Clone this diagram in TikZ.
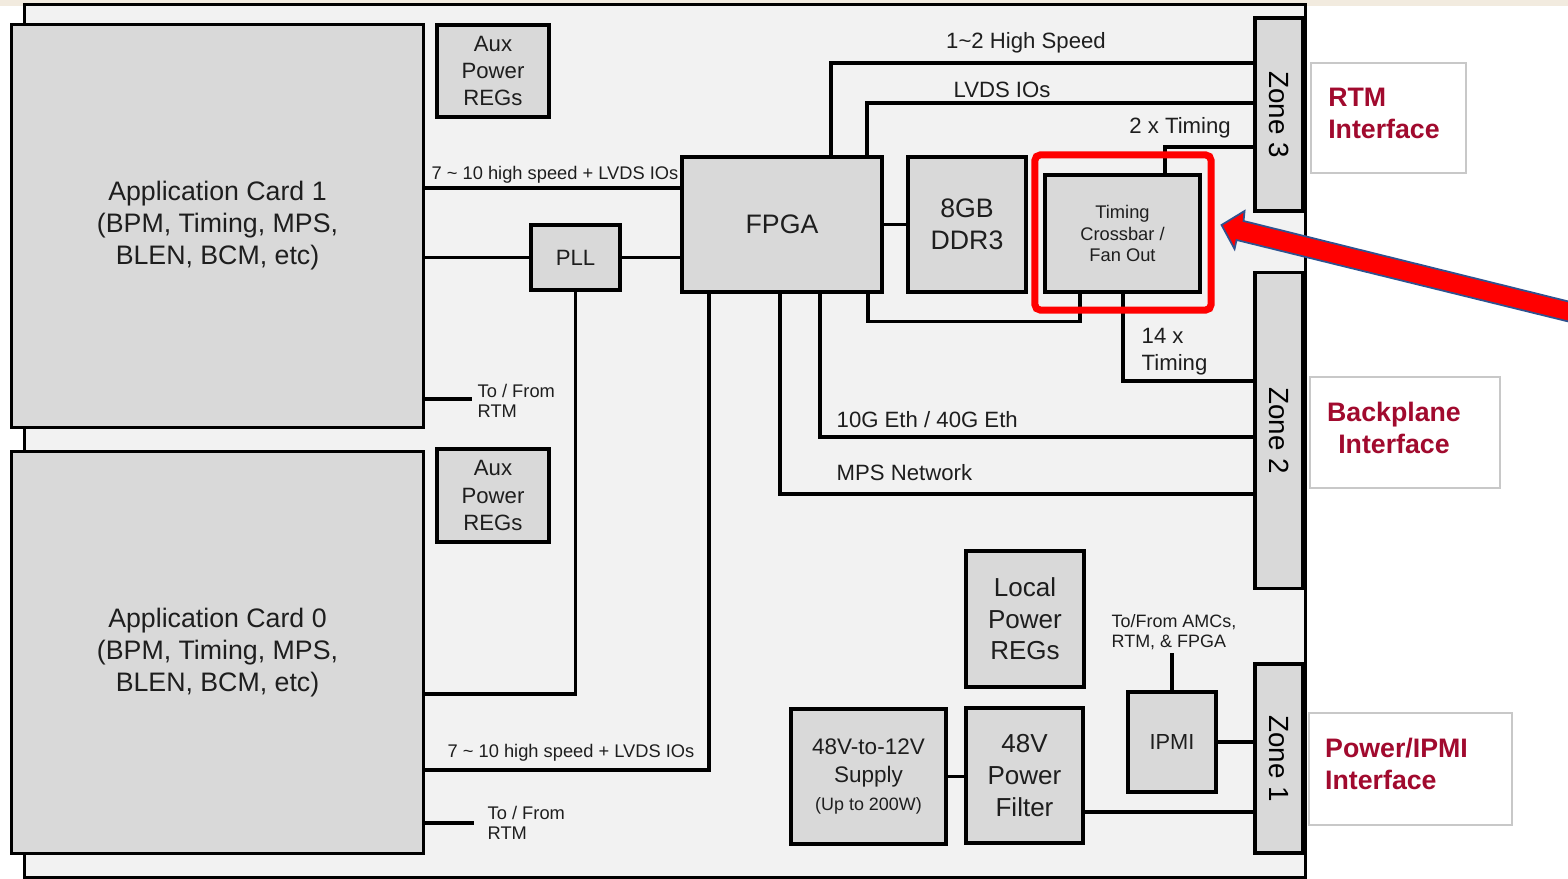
\documentclass[tikz,border=0pt]{standalone}
\usepackage{fontspec}
\setmainfont{Liberation Sans}
\usepackage{graphicx}
\usetikzlibrary{positioning, calc}
\definecolor{boardgray}{HTML}{F2F2F2}
\definecolor{boxgray}{HTML}{D9D9D9}
\definecolor{inkgray}{HTML}{1E1E1E}
\definecolor{ifacered}{HTML}{A10A2E}
\definecolor{ifaceline}{HTML}{C8C8C8}
\definecolor{arrowblue}{HTML}{2F528F}
\definecolor{topbeige}{HTML}{F2EBDF}
\newcommand{\fs}[2]{\fontsize{#1}{#2}\selectfont}

\begin{document}
\begin{tikzpicture}[
    x=0.01cm, y=-0.01cm,
    blk/.style 2 args={rectangle, draw=black, fill=boxgray, line width=0.9pt, minimum width=#1cm, minimum height=#2cm, inner sep=0pt, align=center, text=inkgray},
    wire/.style={line width=0.9pt, draw=black},
    lbl/.style={inner sep=0pt, text=inkgray, align=left},
    ifbox/.style 2 args={rectangle, draw=ifaceline, fill=white, line width=0.4pt, minimum width=#1cm, minimum height=#2cm, inner sep=0pt},
    iftext/.style={text=ifacered, font=\fs{7.6}{9.1}\bfseries, inner sep=0pt},
    hilite/.style={rectangle, draw=red, line width=2pt, rounded corners=1.5pt, minimum width=1.76cm, minimum height=1.55cm, inner sep=0pt},
  ]
  \useasboundingbox (0,0) rectangle (1568,879);
  \fill[topbeige] (0,0) rectangle (1568,6);

  % Board
  \node[rectangle, draw=black, fill=boardgray, line width=0.9pt, minimum width=12.8cm, minimum height=8.72cm, inner sep=0pt] (board) at (665,441) {};

  % Blocks
  \node[blk={4.11}{4.02}, font=\fs{7.6}{9.1}] (app1) at (217.5,226) {Application Card 1\\(BPM, Timing, MPS,\\BLEN, BCM, etc)};
  \node[blk={4.11}{4.01}, font=\fs{7.6}{9.1}] (app0) at (217.5,652.5) {Application Card 0\\(BPM, Timing, MPS,\\BLEN, BCM, etc)};
  \node[blk={1.12}{0.92}, font=\fs{6.3}{7.7}] (aux1) at (493,71) {Aux\\Power\\REGs};
  \node[blk={1.12}{0.93}, font=\fs{6.3}{7.7}] (aux0) at (493,495.5) {Aux\\Power\\REGs};
  \node[blk={0.89}{0.65}, font=\fs{6.3}{7.7}] (pll) at (575.5,257.5) {PLL};
  \node[blk={2.00}{1.35}, font=\fs{7.6}{9.1}] (fpga) at (782,224.5) {FPGA};
  \node[blk={1.18}{1.35}, font=\fs{7.6}{9.1}] (ddr) at (967,224.5) {8GB\\DDR3};
  \node[blk={1.55}{1.17}, font=\fs{5.2}{6.1}] (timing) at (1122.5,233.5) {Timing\\Crossbar /\\Fan Out};
  \node[blk={1.18}{1.36}, font=\fs{7.4}{9.0}] (lpreg) at (1025,619) {Local\\Power\\REGs};
  \node[blk={1.55}{1.35}, font=\fs{6.4}{7.9}] (supply) at (868.5,776.5) {48V-to-12V\\Supply\\{\fs{5.1}{6.8}(Up to 200W)}};
  \node[blk={1.17}{1.35}, font=\fs{7.4}{9.0}] (filter) at (1024.5,775.5) {48V\\Power\\Filter};
  \node[blk={0.88}{1.00}, font=\fs{6.2}{7.5}] (ipmi) at (1172,742) {IPMI};

  % Zones
  \node[blk={0.48}{1.93}, font=\fs{7.9}{9}, text=black] (zone3) at (1279,114.5) {\rotatebox{-90}{Zone 3}};
  \node[blk={0.48}{3.15}, font=\fs{7.9}{9}, text=black] (zone2) at (1279,430.5) {\rotatebox{-90}{Zone 2}};
  \node[blk={0.48}{1.89}, font=\fs{7.9}{9}, text=black] (zone1) at (1279,758.5) {\rotatebox{-90}{Zone 1}};

  % Interface boxes
  \node[ifbox={1.55}{1.10}, label={[iftext, align=left, xshift=-0.045cm, yshift=0.05cm]center:RTM\\Interface}] (rtmif) at (1388.5,118) {};
  \node[ifbox={1.90}{1.11}, label={[iftext, align=center, xshift=-0.11cm, yshift=0.05cm]center:Backplane\\Interface}] (bpif) at (1405,432.5) {};
  \node[ifbox={2.03}{1.12}, label={[iftext, align=left, xshift=-0.14cm, yshift=0.05cm]center:Power/IPMI\\Interface}] (pwrif) at (1410.5,769) {};

  % Connectors, left side
  \draw[wire] (app1.east |- 0,188) -- (fpga.west |- 0,188);
  \node[lbl, font=\fs{5.2}{6}] (hslbl1) at (555,175) {7 \textasciitilde{} 10 high speed + LVDS IOs};
  \draw[wire] (app1.east |- pll.west) -- (pll.west);
  \draw[wire] (pll.east) -- (fpga.west |- pll.east);
  \draw[wire] (pll.south) |- (app0.east |- 0,694);
  \draw[wire] (app1.east |- 0,399) -- ++(47,0) coordinate (rtm1);
  \node[lbl, font=\fs{5.2}{5.7}, anchor=west] (rtmlbl1) at (477,401) {To / From\\RTM};
  \draw[wire] (app0.east |- 0,823) -- ++(49,0) coordinate (rtm0);
  \node[lbl, font=\fs{5.2}{5.7}, anchor=west] (rtmlbl0) at (487,823) {To / From\\RTM};
  \draw[wire] (fpga.south -| 709,0) |- (app0.east |- 0,770);
  \node[lbl, font=\fs{5.2}{6}] (hslbl0) at (571,753) {7 \textasciitilde{} 10 high speed + LVDS IOs};

  % Connectors, RTM side
  \draw[wire] (fpga.north -| 831,0) |- (zone3.west |- 0,63);
  \node[lbl, font=\fs{6.3}{7.5}] (hs2lbl) at (1026,43) {1\textasciitilde{}2 High Speed};
  \draw[wire] (fpga.north -| 867,0) |- (zone3.west |- 0,103);
  \node[lbl, font=\fs{6.3}{7.5}] (lvdslbl) at (1002,90) {LVDS IOs};
  \draw[wire] (timing.north -| 1165,0) |- (zone3.west |- 0,147);
  \node[lbl, font=\fs{6.3}{7.5}] (tim2lbl) at (1180,128) {2 x Timing};
  \draw[wire] (fpga.east) -- (ddr.west);
  \draw[wire] (fpga.south -| 868,0) -- ++(0,28) -| (timing.south -| 1080,0);

  % Connectors, backplane side
  \draw[wire] (timing.south -| 1123,0) |- (zone2.west |- 0,381);
  \node[lbl, font=\fs{6.3}{7.7}, anchor=west] (tim14lbl) at (1141,352) {14 x\\Timing};
  \draw[wire] (fpga.south -| 820,0) |- (zone2.west |- 0,437);
  \node[lbl, font=\fs{6.3}{7.5}, anchor=west] (ethlbl) at (836,420) {10G Eth / 40G Eth};
  \draw[wire] (fpga.south -| 780,0) |- (zone2.west |- 0,494);
  \node[lbl, font=\fs{6.3}{7.5}, anchor=west] (mpslbl) at (836,473) {MPS Network};

  % Connectors, power side
  \draw[wire] (supply.east) -- (filter.west |- supply.east);
  \draw[wire] (filter.east |- 0,812) -- (zone1.west |- 0,812);
  \draw[wire] (ipmi.east) -- (zone1.west |- ipmi.east);
  \draw[wire] (ipmi.north) -- ++(0,-37) coordinate (ipmiup);
  \node[lbl, font=\fs{5.1}{5.7}, anchor=west] (ipmilbl) at (1111,632) {To/From AMCs,\\RTM, \& FPGA};

  % Highlight and pointer
  \node[hilite] (hl) at (1123,232.5) {};
  \coordinate (tip) at ($(hl.east)+(7,-7.5)$);
  \draw[draw=arrowblue, fill=red, line width=0.5pt, line join=miter]
    (tip) -- ++(23,-14) -- ++(-1,10) -- ++(335,83) -- ++(0,20) -- ++(-342,-84) -- ++(-2,9) -- cycle;
\end{tikzpicture}
\end{document}
